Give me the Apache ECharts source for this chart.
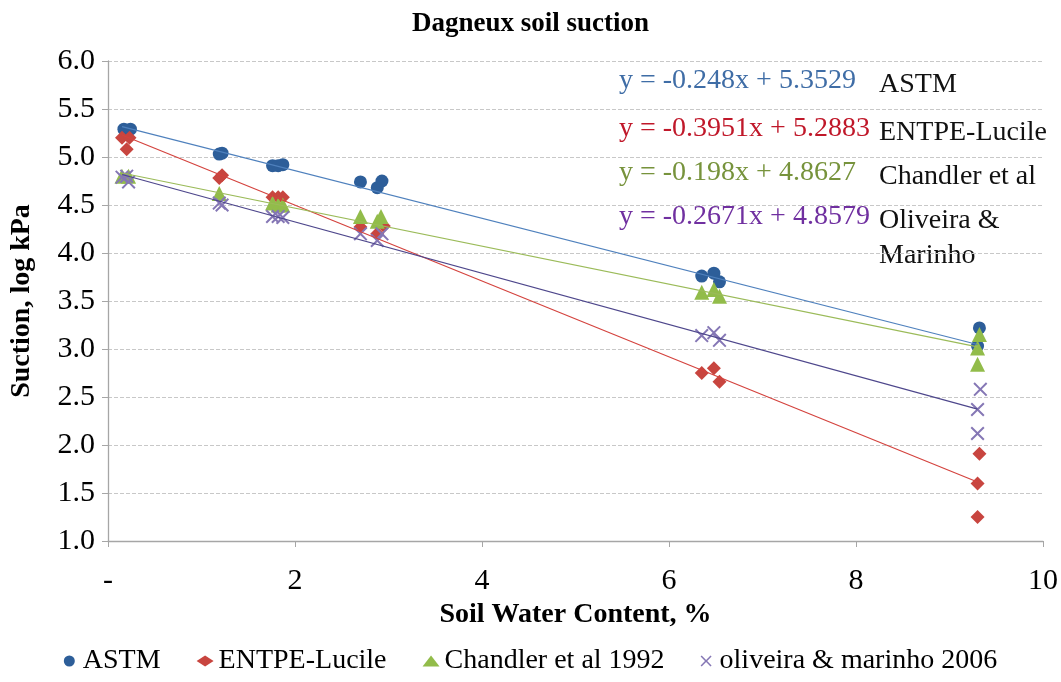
<!DOCTYPE html>
<html>
<head>
<meta charset="utf-8">
<script src="https://cdn.jsdelivr.net/npm/echarts@6/dist/echarts.min.js"></script>
<style>
html,body{margin:0;padding:0;background:#fff;}
#chart{width:1061px;height:682px;}
</style>
</head>
<body>
<div id="chart"></div>
<script>
// ---- data ----
var seriesNames = ['ASTM', 'ENTPE-Lucile', 'Chandler et al 1992', 'oliveira & marinho 2006'];
var astm = [[0.17,5.29],[0.24,5.29],[1.19,5.03],[1.22,5.04],[1.76,4.91],[1.82,4.91],[1.87,4.92],[2.70,4.74],[2.88,4.68],[2.93,4.75],[6.35,3.76],[6.48,3.79],[6.54,3.70],[9.32,3.22],[9.30,3.03]];
var entpe = [[0.15,5.20],[0.23,5.20],[0.20,5.08],[1.19,4.78],[1.22,4.81],[1.76,4.58],[1.82,4.58],[1.87,4.58],[2.70,4.27],[2.88,4.20],[2.95,4.28],[6.35,2.75],[6.48,2.80],[6.54,2.66],[9.32,1.91],[9.30,1.60],[9.30,1.25]];
var chandler = [[0.15,4.80],[0.22,4.80],[1.19,4.62],[1.76,4.52],[1.82,4.50],[1.87,4.50],[2.70,4.38],[2.88,4.33],[2.92,4.38],[6.35,3.59],[6.48,3.62],[6.54,3.55],[9.32,3.15],[9.30,3.01],[9.30,2.84]];
var oliveira = [[0.15,4.79],[0.22,4.74],[0.20,4.80],[1.19,4.52],[1.22,4.50],[1.76,4.38],[1.82,4.38],[1.87,4.37],[2.70,4.20],[2.88,4.13],[2.93,4.20],[6.35,3.14],[6.48,3.17],[6.54,3.09],[9.33,2.58],[9.30,2.37],[9.30,2.12]];
// trendline endpoints (from the displayed regression equations)
var astmTrend = [[0.15,5.3157],[9.30,3.0465]];
var entpeTrend = [[0.15,5.2290],[9.30,1.6139]];
var chandlerTrend = [[0.15,4.8330],[9.30,3.0213]];
var oliveiraTrend = [[0.15,4.8178],[9.30,2.3739]];
var equations = ['y = -0.248x + 5.3529', 'y = -0.3951x + 5.2883', 'y = -0.198x + 4.8627', 'y = -0.2671x + 4.8579'];
var eqLabels = ['ASTM', 'ENTPE-Lucile', 'Chandler et al', 'Oliveira &\nMarinho'];
var xTicks = {min: 0, max: 10, interval: 2};
var yTicks = {min: 1, max: 6, interval: 0.5};

var FONT = 'Liberation Serif';
var markerColors = ['#2D5E99', '#C8453F', '#92BC4A', '#8577B5'];
var lineColors = ['#4F81BD', '#D4433E', '#9BBB59', '#4E478C'];
var eqColors = ['#3F6DA6', '#C0182A', '#77933C', '#7030A0'];
var xPath = 'path://M1,0L5,4L9,0L10,1L6,5L10,9L9,10L5,6L1,10L0,9L4,5L0,1Z';

var chart = echarts.init(document.getElementById('chart'), null, {renderer: 'canvas'});

function scatter(name, data, symbol, size, color) {
  return {name: name, type: 'scatter', data: data, symbol: symbol, symbolSize: size,
    itemStyle: {color: color, opacity: 1}, z: 3};
}
function trend(data, color) {
  return {type: 'line', data: data, showSymbol: false, symbol: 'none', silent: true,
    lineStyle: {color: color, width: 1.2}, z: 4};
}

var graphics = [];
var eqY = [83, 131, 175, 219];
for (var i = 0; i < equations.length; i++) {
  graphics.push({type: 'text', left: 619, top: eqY[i] - 16,
    style: {text: equations[i], fill: eqColors[i], font: '28px "' + FONT + '"'}});
  graphics.push({type: 'text', left: 879, top: eqY[i] - 16,
    style: {text: eqLabels[i], fill: '#111', font: '28px "' + FONT + '"', lineHeight: 35}});
}

var option = {
  backgroundColor: '#fff',
  animation: false,
  title: {text: 'Dagneux soil suction', left: 'center', top: 6,
    textStyle: {fontFamily: FONT, fontSize: 27, fontWeight: 'bold', color: '#000'}},
  grid: {left: 101, right: 18, top: 61, bottom: 141, containLabel: false},
  legend: {
    data: seriesNames, bottom: 2, left: 'center',
    itemWidth: 17, itemHeight: 11, itemGap: 36,
    textStyle: {fontFamily: FONT, fontSize: 28, color: '#000'}
  },
  xAxis: {
    type: 'value', min: xTicks.min, max: xTicks.max, interval: xTicks.interval,
    name: 'Soil Water Content, %', nameLocation: 'middle', nameGap: 50,
    nameTextStyle: {fontFamily: FONT, fontSize: 28, fontWeight: 'bold', color: '#000'},
    axisLine: {show: true, lineStyle: {color: '#A6A6A6', width: 1.3}},
    axisTick: {show: true, inside: false, length: 6, lineStyle: {color: '#A6A6A6'}},
    axisLabel: {fontFamily: FONT, fontSize: 30, color: '#000', margin: 25,
      formatter: function (v) { return v === 0 ? '-' : String(v); }},
    splitLine: {show: false}
  },
  yAxis: {
    type: 'value', min: yTicks.min, max: yTicks.max, interval: yTicks.interval,
    name: 'Suction, log kPa', nameLocation: 'middle', nameGap: 72,
    nameTextStyle: {fontFamily: FONT, fontSize: 28, fontWeight: 'bold', color: '#000'},
    axisLine: {show: true, lineStyle: {color: '#A6A6A6', width: 1.3}},
    axisTick: {show: true, inside: false, length: 6, lineStyle: {color: '#A6A6A6'}},
    axisLabel: {fontFamily: FONT, fontSize: 30, color: '#000', margin: 13,
      formatter: function (v) { return v.toFixed(1); }},
    splitLine: {show: true, lineStyle: {color: '#C8C8C8', type: 'dashed', width: 1}}
  },
  series: [
    scatter(seriesNames[0], astm, 'circle', 13, markerColors[0]),
    scatter(seriesNames[1], entpe, 'diamond', 14, markerColors[1]),
    scatter(seriesNames[2], chandler, 'triangle', 15, markerColors[2]),
    scatter(seriesNames[3], oliveira, xPath, 14, markerColors[3]),
    trend(astmTrend, lineColors[0]),
    trend(entpeTrend, lineColors[1]),
    trend(chandlerTrend, lineColors[2]),
    trend(oliveiraTrend, lineColors[3])
  ],
  graphic: graphics
};
chart.setOption(option);
</script>
</body>
</html>
